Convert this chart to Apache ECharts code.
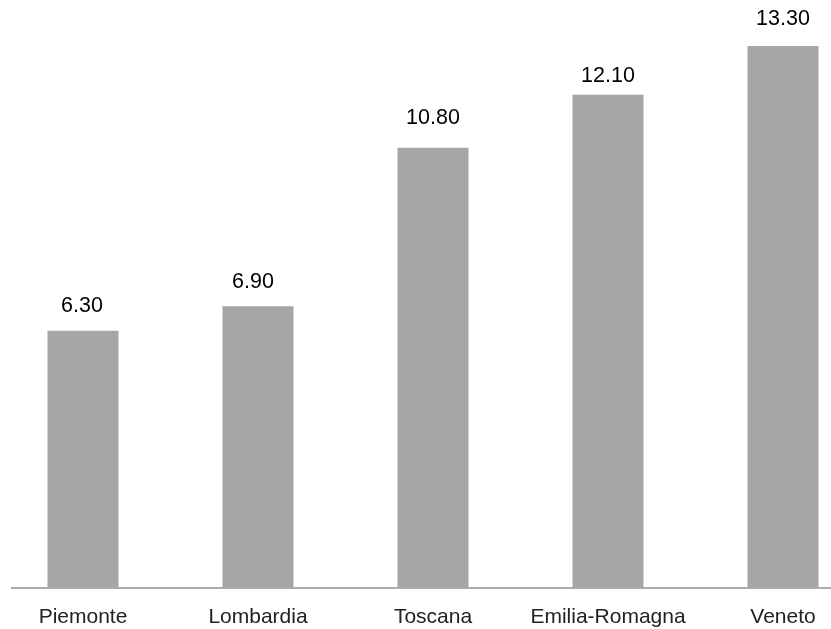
<!DOCTYPE html>
<html>
<head>
<meta charset="utf-8">
<style>
  html, body { margin: 0; padding: 0; background: #ffffff; overflow: hidden; }
  #chart { width: 831px; height: 629px; }
</style>
<script src="https://cdn.jsdelivr.net/npm/echarts@6/dist/echarts.min.js"></script>
</head>
<body>
<div id="chart"></div>
<script>
// Regions and their values
const regions = ['Piemonte', 'Lombardia', 'Toscana', 'Emilia-Romagna', 'Veneto'];
const values = [6.30, 6.90, 10.80, 12.10, 13.30];

// Small per-bar nudges of the value labels (gap above the bar, horizontal shift)
const labelGap = [13.5, 13.5, 18.5, 7.5, 15.5];
const labelShift = [-1, -5, 0, 0, 0];

const chart = echarts.init(document.getElementById('chart'), null, { renderer: 'canvas' });

const barData = values.map((v, i) => ({
  value: v,
  label: { distance: labelGap[i], offset: [labelShift[i], 0] }
}));

const option = {
  animation: false,
  backgroundColor: '#ffffff',
  // category band of 175px; the last band runs past the right edge
  grid: {
    left: -4.5, width: 875, top: 17.5, bottom: 42,
    containLabel: false,
    outerBoundsMode: 'none'
  },
  xAxis: {
    type: 'category',
    data: regions,
    axisLine: { show: false },
    axisTick: { show: false },
    axisLabel: {
      color: '#222222',
      fontFamily: 'Liberation Sans, Arial, sans-serif',
      fontSize: 21,
      margin: 20,
      interval: 0
    }
  },
  yAxis: {
    type: 'value',
    min: 0,
    max: 14,
    show: false,
    splitLine: { show: false }
  },
  series: [{
    type: 'bar',
    data: barData,
    barWidth: 71,
    itemStyle: { color: '#a6a6a6' },
    label: {
      show: true,
      position: 'top',
      color: '#000000',
      fontFamily: 'Liberation Sans, Arial, sans-serif',
      fontSize: 21.5,
      formatter: p => p.value.toFixed(2)
    }
  }],
  graphic: [{
    type: 'line',
    shape: { x1: 11, y1: 588, x2: 831, y2: 588 },
    style: { stroke: '#ababab', lineWidth: 2 },
    z: 0
  }]
};

chart.setOption(option);
</script>
</body>
</html>
